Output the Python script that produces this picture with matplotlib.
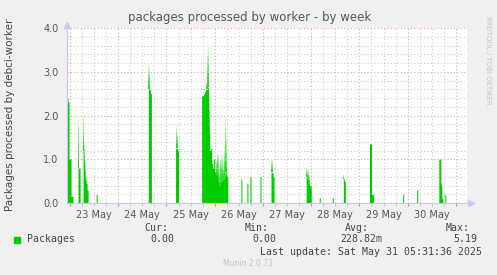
import numpy as np
import pandas as pd
import matplotlib
matplotlib.use("Agg")
import matplotlib.pyplot as plt
import matplotlib.dates as mdates
from matplotlib.ticker import MultipleLocator, FuncFormatter

# non-zero samples (30 min steps), solid value and faded max value
sample_times = [
    "2025-05-22 22:30", "2025-05-22 23:00", "2025-05-22 23:30", "2025-05-23 00:00",
    "2025-05-23 00:30", "2025-05-23 01:00", "2025-05-23 04:00", "2025-05-23 04:30",
    "2025-05-23 06:30", "2025-05-23 07:00", "2025-05-23 07:30", "2025-05-23 08:00",
    "2025-05-23 08:30", "2025-05-23 13:00", "2025-05-24 15:00", "2025-05-24 15:30",
    "2025-05-24 16:00",
    "2025-05-25 04:30", "2025-05-25 05:00", "2025-05-25 05:30",
    "2025-05-25 17:30", "2025-05-25 18:00", "2025-05-25 18:30", "2025-05-25 19:00",
    "2025-05-25 19:30", "2025-05-25 20:00", "2025-05-25 20:30", "2025-05-25 21:00",
    "2025-05-25 21:30", "2025-05-25 22:00", "2025-05-25 22:30", "2025-05-25 23:00",
    "2025-05-25 23:30", "2025-05-26 00:00", "2025-05-26 00:30", "2025-05-26 01:00",
    "2025-05-26 01:30", "2025-05-26 02:00", "2025-05-26 02:30", "2025-05-26 03:00",
    "2025-05-26 03:30", "2025-05-26 04:00", "2025-05-26 04:30", "2025-05-26 05:00",
    "2025-05-26 05:30", "2025-05-26 06:00",
    "2025-05-26 13:00", "2025-05-26 16:00", "2025-05-26 17:30", "2025-05-26 22:30",
    "2025-05-27 04:00", "2025-05-27 04:30", "2025-05-27 05:00",
    "2025-05-27 21:30", "2025-05-27 22:00", "2025-05-27 22:30", "2025-05-27 23:00",
    "2025-05-27 23:30", "2025-05-28 04:00", "2025-05-28 10:30", "2025-05-28 16:00",
    "2025-05-28 16:30", "2025-05-29 05:00", "2025-05-29 05:30", "2025-05-29 06:00",
    "2025-05-29 06:30", "2025-05-29 21:30", "2025-05-30 04:30", "2025-05-30 15:30",
    "2025-05-30 16:00", "2025-05-30 16:30", "2025-05-30 17:00", "2025-05-30 18:30",
]
solid_vals = [
    2.4, 2.3, 1.0, 1.0, 0.15, 0.15, 0.8, 0.8, 1.2, 0.9, 0.55, 0.45, 0.3, 0.2, 2.6, 2.6,
    2.5,
    1.25, 1.25, 1.2,
    2.45, 2.45, 2.5, 2.55, 2.6, 2.6, 2.65, 1.6, 1.2, 1.25, 0.9, 0.8, 1.0, 0.7, 0.65, 0.8,
    0.5, 0.4, 0.7, 0.5, 0.6, 0.55, 0.6, 0.7, 0.65, 0.6,
    0.55, 0.45, 0.6, 0.6, 0.7, 0.7, 0.6,
    0.6, 0.55, 0.55, 0.4, 0.4, 0.12, 0.12, 0.55, 0.5, 1.35, 1.35, 0.2, 0.2, 0.2, 0.3,
    1.0, 1.0, 0.4, 0.1, 0.2,
]
peak_vals = [
    2.8, 2.5, 1.0, 1.0, 0.15, 0.15, 1.95, 1.4, 2.0, 1.4, 1.0, 0.6, 0.5, 0.2, 3.2, 3.1,
    2.9,
    1.8, 1.6, 1.5,
    2.45, 2.45, 2.5, 2.55, 2.75, 3.5, 3.6, 2.6, 1.3, 1.25, 0.9, 1.0, 1.0, 0.7, 1.0, 1.15,
    1.15, 0.9, 1.0, 1.1, 1.1, 0.9, 1.3, 2.0, 1.6, 1.0,
    0.8, 1.8, 0.6, 0.6, 1.0, 1.0, 1.0,
    0.8, 0.8, 0.75, 0.65, 0.6, 0.12, 0.12, 0.65, 0.6, 1.35, 1.35, 0.2, 0.2, 1.0, 1.4,
    1.0, 1.0, 0.5, 0.25, 0.2,
]

green = np.array([0.0, 0.8, 0.0])
grid_red = "#e4a6a6"
grid_gray = "#cccccc"
text_gray = "#555555"

times = pd.date_range("2025-05-22 22:30", "2025-05-31 05:30", freq="30min")
solid = pd.Series(0.0, index=times)
peak = pd.Series(0.0, index=times)
solid[pd.to_datetime(sample_times)] = solid_vals
peak[pd.to_datetime(sample_times)] = peak_vals
peak = np.maximum(peak, solid)

fig = plt.figure(figsize=(4.97, 2.75), dpi=100, facecolor="#f0f0f0")
ax = fig.add_axes([67 / 497, 72 / 275, 400 / 497, 175 / 275])
ax.set_facecolor("white")

x = times.to_pydatetime()
ax.fill_between(x, 0, solid.values, step="post", color=green, lw=0, zorder=3)
n = 6
diff = peak.values - solid.values
for k in range(n):
    lo = solid.values + diff * k / n
    hi = solid.values + diff * (k + 1) / n
    t = (k + 1) / (n + 1)
    c = green * (1 - t) + np.ones(3) * t
    ax.fill_between(x, lo, hi, step="post", color=c, lw=0, zorder=3, where=diff > 0)

ax.set_xlim(pd.Timestamp("2025-05-22 22:30"), pd.Timestamp("2025-05-31 05:31"))
ax.set_ylim(0, 4.0)

ax.xaxis.set_major_locator(mdates.DayLocator())
ax.xaxis.set_major_formatter(FuncFormatter(lambda v, p: ""))
ax.xaxis.set_minor_locator(mdates.HourLocator(byhour=[0, 6, 12, 18]))
ax.xaxis.set_minor_formatter(FuncFormatter(
    lambda v, p: mdates.num2date(v).strftime("%d %b") if mdates.num2date(v).hour == 12 else ""))
ax.yaxis.set_major_locator(MultipleLocator(1.0))
ax.yaxis.set_minor_locator(MultipleLocator(0.2))
ax.yaxis.set_major_formatter(FuncFormatter(lambda v, p: "%.1f" % v))

ax.grid(which="major", color=grid_red, ls=(0, (1, 2)), lw=0.8, zorder=1)
ax.grid(which="minor", color=grid_gray, ls=(0, (1, 2)), lw=0.8, zorder=1)

ax.tick_params(axis="x", which="major", length=2, color="#e08080", labelsize=7, pad=3)
ax.tick_params(axis="x", which="minor", length=2, color="#bbbbbb", labelsize=7,
               labelcolor=text_gray, pad=3)
ax.tick_params(axis="y", which="both", length=0, labelsize=7, labelcolor=text_gray, pad=6)

for s in ["top", "right"]:
    ax.spines[s].set_visible(False)
for s in ["left", "bottom"]:
    ax.spines[s].set_color("#c8c8e8")
    ax.spines[s].set_linewidth(0.8)
    ax.spines[s].set_zorder(4)
ax.plot([0], [1.02], marker="^", ms=4, color="#c8c8f8", transform=ax.transAxes, clip_on=False)
ax.plot([1.01], [0], marker=">", ms=4, color="#c8c8f8", transform=ax.transAxes, clip_on=False)

fig.text(250 / 497, 1 - 18 / 275, "packages processed by worker - by week",
         ha="center", va="center", fontsize=8.5, color=text_gray)
fig.text(10 / 497, 1 - 115 / 275, "Packages processed by debci-worker", rotation=90,
         ha="center", va="center", fontsize=7.5, color="#444444")
fig.text(488 / 497, 1 - 60 / 275, "RRDTOOL / TOBI OETIKER", rotation=270,
         ha="center", va="center", fontsize=5, color="#c4c4c4")

mono = dict(family="DejaVu Sans Mono", fontsize=7.1, color="#444444", va="center")
fig.patches.append(plt.Rectangle((14 / 497, 1 - 243 / 275), 6 / 497, 6 / 275,
                                 transform=fig.transFigure, color=green, figure=fig))
fig.text(27 / 497, 1 - 239 / 275, "Packages", ha="left", **mono)
for label, value, lx, vx in [("Cur:", "0.00", 168, 174), ("Min:", "0.00", 269, 276),
                             ("Avg:", "228.82m", 369, 382), ("Max:", "5.19", 470, 477)]:
    fig.text(lx / 497, 1 - 228 / 275, label, ha="right", **mono)
    fig.text(vx / 497, 1 - 239 / 275, value, ha="right", **mono)
fig.text(482 / 497, 1 - 252 / 275, "Last update: Sat May 31 05:31:36 2025", ha="right", **mono)
fig.text(248 / 497, 1 - 263 / 275, "Munin 2.0.73", ha="center", va="center",
         fontsize=5.5, color="#c4c4c4")

fig.savefig("out.png", dpi=100, facecolor=fig.get_facecolor())
